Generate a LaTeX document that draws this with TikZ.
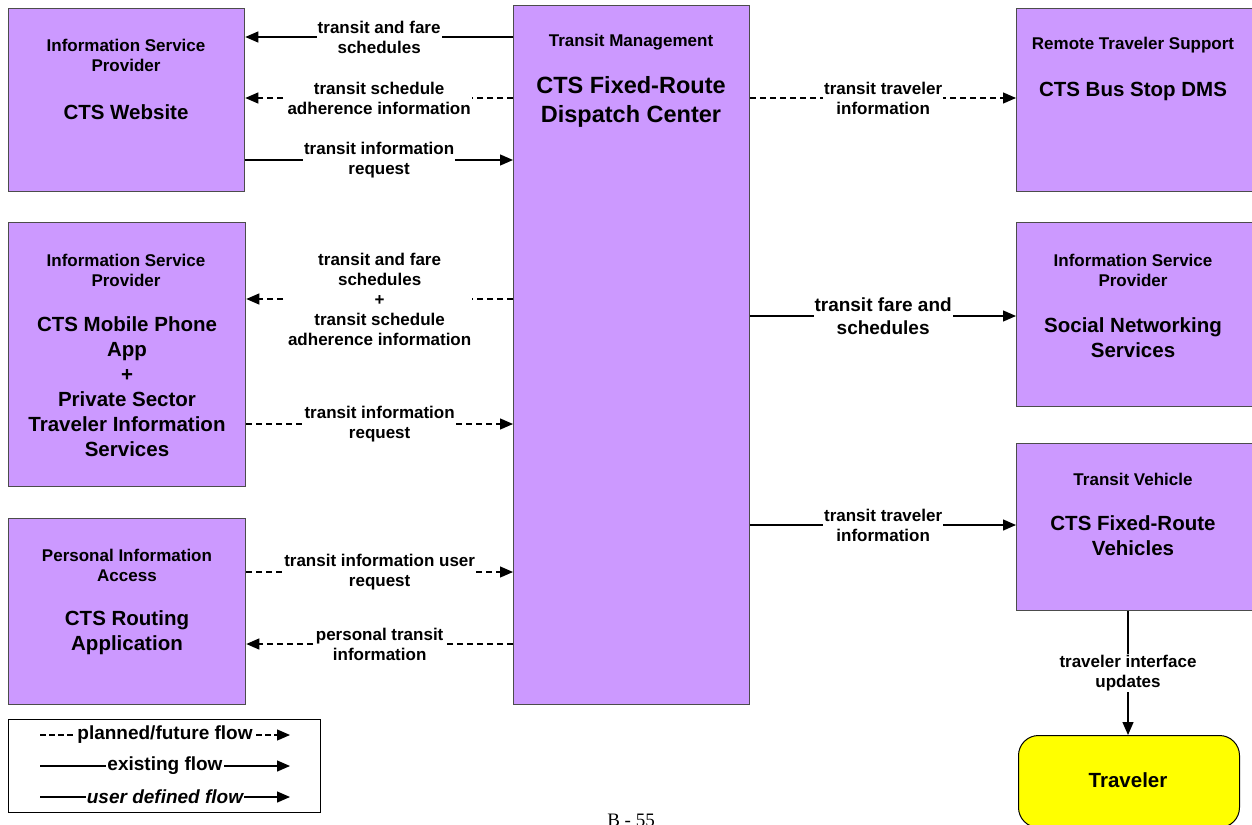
\documentclass[tikz,border=0pt]{standalone}
\usepackage{fontspec}
\setmainfont{Liberation Sans}
\newfontfamily\serifpage{Liberation Serif}
\usetikzlibrary{arrows.meta}
\definecolor{boxpurple}{HTML}{CC99FF}
\definecolor{travyellow}{HTML}{FFFF00}
\begin{document}
\begin{tikzpicture}[x=1pt,y=-1pt,
  box/.style={draw=black!70,fill=boxpurple,line width=1.3pt,anchor=north west,inner sep=0pt},
  hdr/.style={font=\fontsize{17}{20}\selectfont\bfseries,align=center,inner sep=0pt},
  ttl/.style={font=\fontsize{20.5}{25}\selectfont\bfseries,align=center,inner sep=0pt},
  bigttl/.style={font=\fontsize{23.5}{29}\selectfont\bfseries,align=center,inner sep=0pt},
  lbl/.style={font=\fontsize{17}{20}\selectfont\bfseries,align=center,fill=white,inner sep=1pt},
  biglbl/.style={font=\fontsize{19}{23}\selectfont\bfseries,align=center,fill=white,inner sep=1pt},
  leg/.style={font=\fontsize{19}{22}\selectfont\bfseries,fill=white,inner sep=1pt},
  flow/.style={line width=1.3pt,-{Triangle[length=13pt,width=11pt]}},
  plan/.style={flow,dash pattern=on 6pt off 4pt},
]
\useasboundingbox (0,0) rectangle (1252,824);
\clip (0,0) rectangle (1252,824);

% boxes
\node[box,minimum width=236pt,minimum height=183pt] (web) at (8,8) {};
\node[box,minimum width=237pt,minimum height=264pt] (mob) at (8,222) {};
\node[box,minimum width=237pt,minimum height=186pt] (per) at (8,518) {};
\node[box,minimum width=236pt,minimum height=699pt] (cen) at (513,5) {};
\node[box,minimum width=236pt,minimum height=183pt] (rem) at (1016,8) {};
\node[box,minimum width=236pt,minimum height=184pt] (soc) at (1016,222) {};
\node[box,minimum width=236pt,minimum height=167pt] (veh) at (1016,443) {};
\node[draw=black,fill=travyellow,line width=1pt,rounded corners=20pt,anchor=north west,
      minimum width=221pt,minimum height=92pt] (trav) at (1018,735) {};

% box texts
\node[hdr] (webh) at (126,55) {Information Service\\Provider};
\node[ttl] (webt) at (126,112) {CTS Website};
\node[hdr] (mobh) at (126,270) {Information Service\\Provider};
\node[ttl] (mobt) at (127,387) {CTS Mobile Phone\\App\\+\\Private Sector\\Traveler Information\\Services};
\node[hdr] (perh) at (127,565) {Personal Information\\Access};
\node[ttl] (pert) at (127,633) {CTS Routing\\Application};
\node[hdr] (cenh) at (631,42) {Transit Management};
\node[bigttl] (cent) at (631,102) {CTS Fixed-Route\\Dispatch Center};
\node[hdr] (remh) at (1133,45) {Remote Traveler Support};
\node[ttl] (remt) at (1133,91) {CTS Bus Stop DMS};
\node[hdr] (soch) at (1133,270) {Information Service\\Provider};
\node[ttl] (soct) at (1133,338) {Social Networking\\Services};
\node[hdr] (vehh) at (1133,479) {Transit Vehicle};
\node[ttl] (veht) at (1133,536) {CTS Fixed-Route\\Vehicles};
\node[ttl] (travt) at (1128,780) {Traveler};

% row helpers
\coordinate (r1) at (0,37);
\coordinate (r2) at (0,98);
\coordinate (r3) at (0,160);
\coordinate (r4) at (0,299);
\coordinate (r5) at (0,424);
\coordinate (r6) at (0,572);
\coordinate (r7) at (0,644);
\coordinate (r8) at (0,98);
\coordinate (r9) at (0,316);
\coordinate (r10) at (0,525);
\coordinate (c11) at (1128,0);

% connectors left
\draw[flow] (cen.west |- r1) -- node[lbl] {transit and fare\\schedules} (web.east |- r1);
\draw[plan] (cen.west |- r2) -- node[lbl] {transit schedule\\adherence information} (web.east |- r2);
\draw[flow] (web.east |- r3) -- node[lbl] {transit information\\request} (cen.west |- r3);
\draw[plan] (cen.west |- r4) -- node[lbl] {transit and fare\\schedules\\+\\transit schedule\\adherence information} (mob.east |- r4);
\draw[plan] (mob.east |- r5) -- node[lbl] {transit information\\request} (cen.west |- r5);
\draw[plan] (per.east |- r6) -- node[lbl] {transit information user\\request} (cen.west |- r6);
\draw[plan] (cen.west |- r7) -- node[lbl] {personal transit\\information} (per.east |- r7);

% connectors right
\draw[plan] (cen.east |- r8) -- node[lbl] {transit traveler\\information} (rem.west |- r8);
\draw[flow] (cen.east |- r9) -- node[biglbl] {transit fare and\\schedules} (soc.west |- r9);
\draw[flow] (cen.east |- r10) -- node[lbl] {transit traveler\\information} (veh.west |- r10);
\draw[flow] (veh.south -| c11) -- node[lbl] {traveler interface\\updates} (trav.north -| c11);

% legend
\node[draw=black,line width=1pt,fill=white,anchor=north west,minimum width=312pt,minimum height=93pt] (legend) at (8,719) {};
\coordinate (l1a) at (40,735); \coordinate (l1b) at (290,735);
\coordinate (l2a) at (40,766); \coordinate (l2b) at (290,766);
\coordinate (l3a) at (40,797); \coordinate (l3b) at (290,797);
\draw[flow,dash pattern=on 6pt off 3pt] (l1a) -- node[leg] {planned/future flow} (l1b);
\draw[flow] (l2a) -- node[leg] {existing flow} (l2b);
\draw[flow] (l3a) -- node[leg,font=\fontsize{19}{22}\selectfont\bfseries\itshape] {user defined flow} (l3b);

% page number
\node[font=\serifpage\fontsize{19}{22}\selectfont,anchor=base,inner sep=0pt] (page) at (631,826) {B - 55};
\end{tikzpicture}
\end{document}
